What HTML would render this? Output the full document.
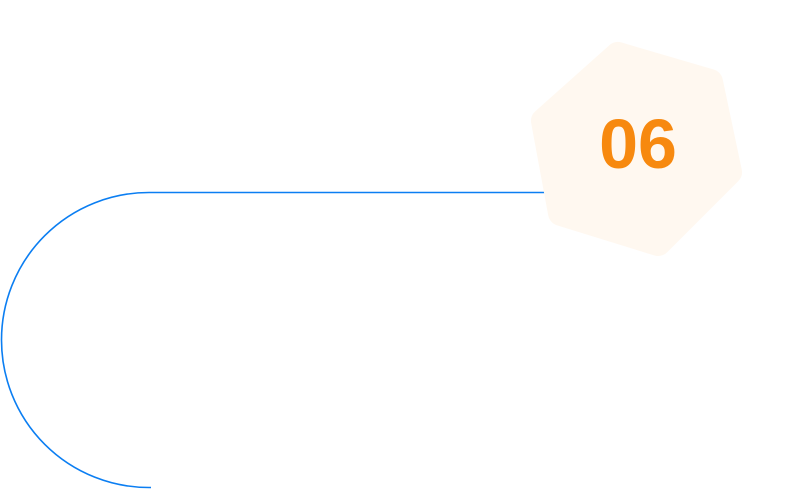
<!DOCTYPE html>
<html><head><meta charset="utf-8"><style>
html,body{margin:0;padding:0;background:#fff;width:787px;height:490px;overflow:hidden}
</style></head><body>
<svg width="787" height="490" viewBox="0 0 787 490" xmlns="http://www.w3.org/2000/svg">
<path d="M550 192.5 H149 A147.5 147.5 0 0 0 149 487.5 H151" fill="none" stroke="#0b7ef2" stroke-width="1.6"/>
<polygon points="618,55 710,82 729,172 658,243 561,213 544,121" fill="#fff8f0" stroke="#fff8f0" stroke-width="26" stroke-linejoin="round"/>
<text x="638" y="168" text-anchor="middle" font-family="'Liberation Sans',sans-serif" font-weight="bold" font-size="70" fill="#f7890f">06</text>
</svg>
</body></html>
